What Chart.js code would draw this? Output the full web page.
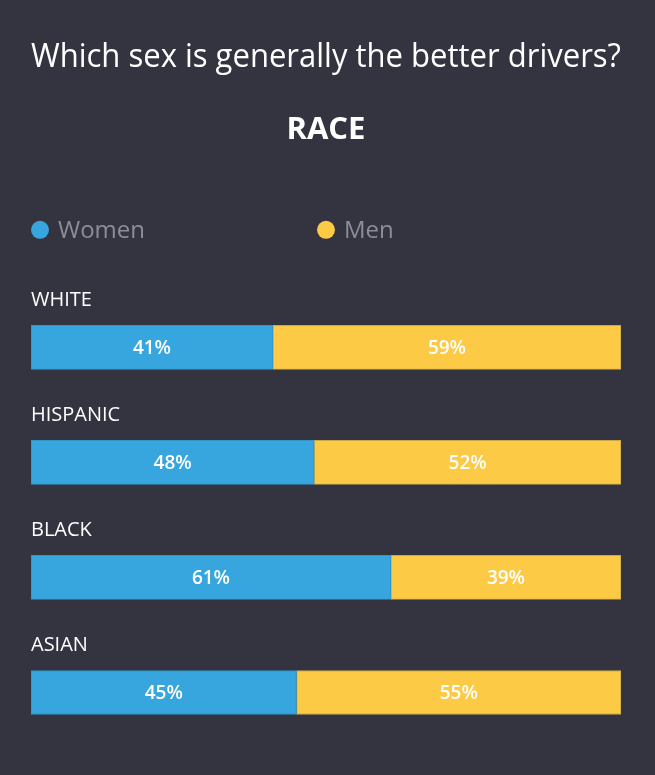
<!DOCTYPE html>
<html>
<head>
<meta charset="utf-8">
<script src="https://cdn.jsdelivr.net/npm/chart.js@4"></script>
<style>
  html, body { margin: 0; padding: 0; background: #333440; }
  #wrap { width: 655px; height: 775px; }
</style>
</head>
<body>
<div id="wrap"><canvas id="chart"></canvas></div>
<script>
const categories = ['WHITE', 'HISPANIC', 'BLACK', 'ASIAN'];
const women = [41, 48, 61, 45];
const men = [59, 52, 39, 55];
const seriesNames = ['Women', 'Men'];

const FONT = '"Open Sans", "Noto Sans", sans-serif';

// category names above each bar + legend dots above the plot
const labelsPlugin = {
  id: 'barLabels',
  afterDatasetsDraw(chart) {
    const ctx = chart.ctx;
    const area = chart.chartArea;
    ctx.save();

    // legend
    ctx.textBaseline = 'middle';
    ctx.textAlign = 'left';
    ctx.font = '24px ' + FONT;
    const step = area.width / 2 - 9;
    chart.data.datasets.forEach((ds, i) => {
      const x = area.left + i * step;
      const y = area.top - 60;
      ctx.fillStyle = ds.backgroundColor;
      ctx.beginPath();
      ctx.arc(x + 9, y, 9, 0, Math.PI * 2);
      ctx.fill();
      ctx.fillStyle = '#8b8d99';
      ctx.fillText(ds.label, x + 27, y + 1);
    });

    // category labels
    const meta0 = chart.getDatasetMeta(0);
    ctx.font = '20px ' + FONT;
    ctx.fillStyle = '#ffffff';
    meta0.data.forEach((bar, i) => {
      ctx.fillText(chart.data.labels[i], area.left, bar.y - 47);
    });

    // values inside the segments
    ctx.textAlign = 'center';
    ctx.font = '600 19px ' + FONT;
    chart.data.datasets.forEach((ds, di) => {
      chart.getDatasetMeta(di).data.forEach((bar, i) => {
        const cx = (bar.base + bar.x) / 2;
        ctx.fillText(ds.data[i] + '%', cx, bar.y + 1);
      });
    });
    ctx.restore();
  }
};

new Chart(document.getElementById('chart'), {
  type: 'bar',
  data: {
    labels: categories,
    datasets: [
      {
        label: seriesNames[0],
        data: women,
        backgroundColor: '#38a6de',
        borderColor: '#3195c8',
        borderWidth: 1,
        borderSkipped: false,
        barThickness: 44,
      },
      {
        label: seriesNames[1],
        data: men,
        backgroundColor: '#fcca44',
        borderColor: '#c9a74a',
        borderWidth: 1,
        borderSkipped: false,
        barThickness: 44,
      },
    ],
  },
  options: {
    indexAxis: 'y',
    responsive: true,
    maintainAspectRatio: false,
    animation: false,
    layout: { padding: { left: 31, right: 34, top: 0, bottom: 25 } },
    plugins: {
      legend: { display: false },
      tooltip: { enabled: false },
      title: {
        display: true,
        text: 'Which sex is generally the better drivers?',
        color: '#ffffff',
        font: { family: FONT, size: 33, weight: 'normal' },
        padding: { top: 38, bottom: 0 },
      },
      subtitle: {
        display: true,
        text: 'RACE',
        color: '#ffffff',
        font: { family: FONT, size: 31, weight: 'bold' },
        padding: { top: 34, bottom: 141 },
      },
    },
    scales: {
      x: { stacked: true, min: 0, max: 100, display: false },
      y: { stacked: true, display: false },
    },
  },
  plugins: [labelsPlugin],
});
</script>
</body>
</html>
